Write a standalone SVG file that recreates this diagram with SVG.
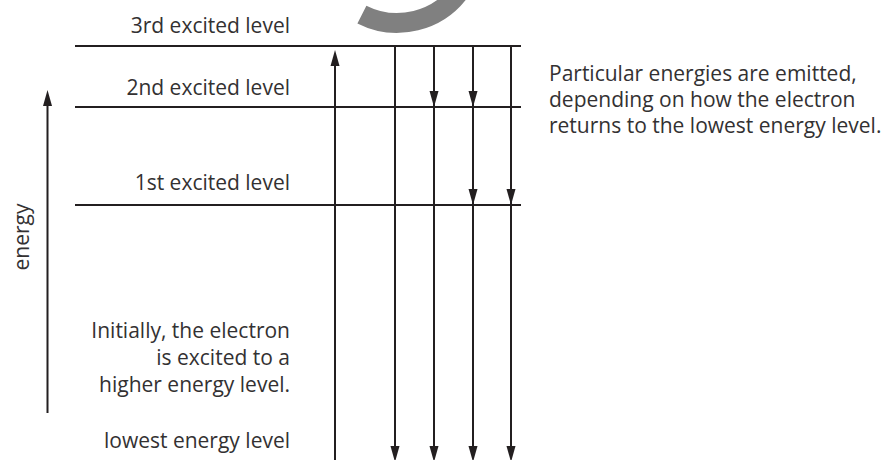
<svg xmlns="http://www.w3.org/2000/svg" xmlns:xlink="http://www.w3.org/1999/xlink" width="889" height="460" viewBox="0 0 889 460">
<style>
.t{font-family:"Open Sans","Liberation Sans",sans-serif;font-size:21px;fill:#333132}
.r{text-anchor:end}
.ln{stroke:#231f20;stroke-width:2;fill:none}
.ah{fill:#231f20}
</style>
<defs>
<path id="ah" class="ah" d="M0,0 L-4.5,-16 L4.5,-16 Z"/>
</defs>
<rect width="889" height="460" fill="#ffffff"/>
<path d="M361.9 14.6 A78 78 0 0 0 460.7 -10" stroke="#808080" stroke-width="20" fill="none"/>
<g id="level3">
<line class="ln" x1="75" y1="46" x2="521" y2="46"/>
<text class="t r" x="290" y="33">3rd excited level</text>
</g>
<g id="level2">
<line class="ln" x1="75" y1="107" x2="521" y2="107"/>
<text class="t r" x="290" y="95">2nd excited level</text>
</g>
<g id="level1">
<line class="ln" x1="75" y1="205" x2="521" y2="205"/>
<text class="t r" x="290" y="190">1st excited level</text>
</g>
<g id="level0">
<text class="t r" x="290" y="448">lowest energy level</text>
</g>
<g id="initial-note">
<text class="t r" x="290" y="338">Initially, the electron</text>
<text class="t r" x="290" y="365">is excited to a</text>
<text class="t r" x="290" y="392">higher energy level.</text>
</g>
<g id="emission-note">
<text class="t" x="549" y="81">Particular energies are emitted,</text>
<text class="t" x="549" y="107">depending on how the electron</text>
<text class="t" x="549" y="133">returns to the lowest energy level.</text>
</g>
<g id="energy-axis">
<line class="ln" x1="47.5" y1="413" x2="47.5" y2="100"/>
<use xlink:href="#ah" transform="translate(47.5,90) rotate(180)"/>
<text class="t" transform="translate(29,237) rotate(-90)" text-anchor="middle">energy</text>
</g>
<g id="connectors">
<line class="ln" x1="335" y1="460" x2="335" y2="60"/>
<use xlink:href="#ah" transform="translate(335,50) rotate(180)"/>
<line class="ln" x1="395" y1="46" x2="395" y2="450"/>
<use xlink:href="#ah" transform="translate(395,462)"/>
<line class="ln" x1="434" y1="46" x2="434" y2="450"/>
<use xlink:href="#ah" transform="translate(434,107)"/>
<use xlink:href="#ah" transform="translate(434,462)"/>
<line class="ln" x1="473" y1="46" x2="473" y2="450"/>
<use xlink:href="#ah" transform="translate(473,107)"/>
<use xlink:href="#ah" transform="translate(473,205)"/>
<use xlink:href="#ah" transform="translate(473,462)"/>
<line class="ln" x1="511" y1="46" x2="511" y2="450"/>
<use xlink:href="#ah" transform="translate(511,205)"/>
<use xlink:href="#ah" transform="translate(511,462)"/>
</g>
</svg>
